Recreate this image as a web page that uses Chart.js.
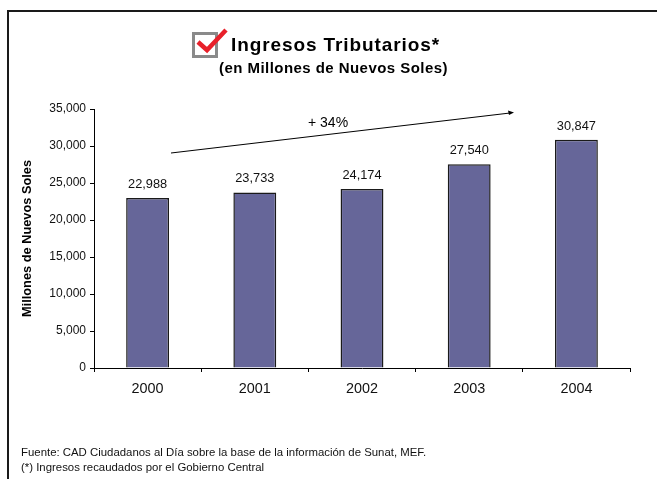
<!DOCTYPE html>
<html><head><meta charset="utf-8">
<style>html,body{margin:0;padding:0;background:#fff;overflow:hidden}
#wrap{position:relative;width:657px;height:479px}canvas{display:block}</style>
<script src="https://cdn.jsdelivr.net/npm/chart.js@4"></script></head>
<body><div id="wrap"><canvas id="c" width="657" height="479"></canvas></div>
<script>
const categories=["2000","2001","2002","2003","2004"];
const ingresos=[22988,23733,24174,27540,30847];
const titleText="Ingresos Tributarios*";
const subtitleText="(en Millones de Nuevos Soles)";
const yAxisTitle="Millones de Nuevos Soles";
const growthLabel="+ 34%";
const footnotes=["Fuente: CAD Ciudadanos al Día sobre la base de la información de Sunat, MEF.","(*) Ingresos recaudados por el Gobierno Central"];
const FONT='"Liberation Sans", Arial, sans-serif';
const decor={id:'decor',afterDraw(ch){
 const c=ch.ctx;c.save();
 // frame: top and left edges only
 c.fillStyle='#1a1a1a';c.fillRect(7,10,650,2);c.fillRect(7,10,2,469);
 // icon
 c.strokeStyle='#8a8a8a';c.lineWidth=3;c.strokeRect(193.5,33.5,23,23);
 c.strokeStyle='#e8202a';c.lineWidth=4.5;c.beginPath();c.moveTo(198,42);c.lineTo(207,50);c.lineTo(226,30);c.stroke();
 // titles
 c.fillStyle='#000';c.textBaseline='alphabetic';c.textAlign='left';
 c.letterSpacing='0.9px';
 c.font='bold 19px '+FONT;c.fillText(titleText,231,51);
 c.letterSpacing='0.45px';
 c.font='bold 15px '+FONT;c.fillText(subtitleText,219,73);
 c.letterSpacing='0px';
 // growth
 c.font='14px '+FONT;c.fillText(growthLabel,308,127);
 c.strokeStyle='#000';c.lineWidth=1;c.beginPath();c.moveTo(171,153);c.lineTo(510,113);c.stroke();
 c.fillStyle='#000';c.beginPath();c.moveTo(514,112.5);c.lineTo(508,110.5);c.lineTo(509,115);c.closePath();c.fill();
 // footnotes
 c.fillStyle='#111';c.font='11.4px '+FONT;
 c.fillText(footnotes[0],21,456);c.fillText(footnotes[1],21,471);
 // value labels
 c.font='12.8px '+FONT;c.textAlign='center';
 const m=ch.getDatasetMeta(0);
 m.data.forEach((b,i)=>c.fillText(ingresos[i].toLocaleString('en-US'),b.x,b.y-10));
 c.restore();
}};
new Chart(document.getElementById('c'),{type:'bar',
 data:{labels:categories,datasets:[{data:ingresos,backgroundColor:'#666699',borderColor:'#1a1a1a',borderWidth:1.5,barPercentage:0.4,categoryPercentage:1}]},
 options:{responsive:false,animation:false,
  layout:{padding:{left:20,right:27,top:109,bottom:0}},
  plugins:{legend:{display:false},tooltip:{enabled:false}},
  scales:{
   x:{afterFit(s){s.height=111;},grid:{display:true,drawOnChartArea:false,color:'#000',tickLength:4,offset:true},border:{color:'#000'},ticks:{color:'#111',font:{family:FONT,size:14.4},padding:8}},
   y:{min:0,max:35000,afterFit(s){s.width=74;},grid:{display:true,drawOnChartArea:false,color:'#000',tickLength:4},border:{color:'#000'},
      ticks:{stepSize:5000,color:'#111',padding:4,font:{family:FONT,size:12},callback:v=>v.toLocaleString('en-US')},
      title:{display:true,text:yAxisTitle,color:'#000',font:{family:FONT,size:12.8,weight:'bold'},padding:{top:0,bottom:0}}}
  }},plugins:[decor]});
</script></body></html>
